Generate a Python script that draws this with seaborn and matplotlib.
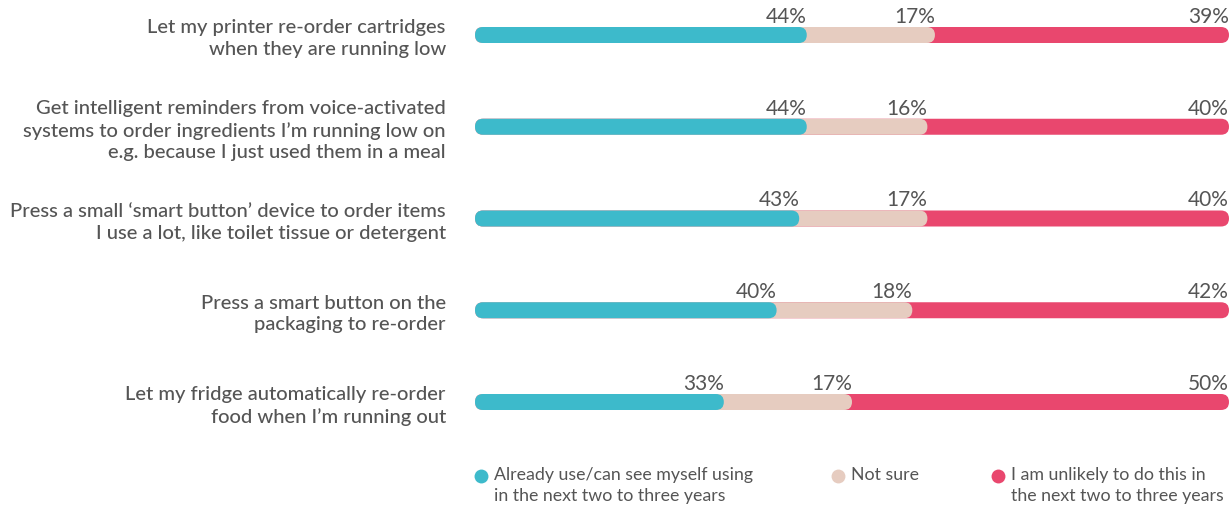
import matplotlib
matplotlib.use("Agg")
import matplotlib.pyplot as plt
import seaborn as sns
import pandas as pd
from matplotlib.patches import FancyBboxPatch
from matplotlib.lines import Line2D

categories = [
    "Let my printer re-order cartridges\nwhen they are running low",
    "Get intelligent reminders from voice-activated\nsystems to order ingredients I\u2019m running low on\ne.g. because I just used them in a meal",
    "Press a small \u2018smart button\u2019 device to order items\nI use a lot, like toilet tissue or detergent",
    "Press a smart button on the\npackaging to re-order",
    "Let my fridge automatically re-order\nfood when I\u2019m running out",
]
already = [44, 44, 43, 40, 33]
not_sure = [17, 16, 17, 18, 17]
unlikely = [39, 40, 40, 42, 50]
series_names = [
    "Already use/can see myself using\nin the next two to three years",
    "Not sure",
    "I am unlikely to do this in\nthe next two to three years",
]
colors = ["#3DBACB", "#E6CCC0", "#E9476E"]

sns.set_theme(style="white")
plt.rcParams["font.family"] = ["Lato", "DejaVu Sans"]
text_color = "#555555"

W, H = 1229, 508
fig = plt.figure(figsize=(W / 100, H / 100), dpi=100)
ax = fig.add_axes([475 / W, 1 - 440 / H, (1229 - 475) / W, 440 / H])

df = pd.DataFrame({"cat": categories, "a": already, "b": not_sure, "c": unlikely})
df["ab"] = df["a"] + df["b"]
df["abc"] = df["ab"] + df["c"]

bar_h = 16 / 91.75
for col, color in [("abc", colors[2]), ("ab", colors[1]), ("a", colors[0])]:
    sns.barplot(data=df, x=col, y="cat", color=color, width=bar_h, ax=ax,
                orient="h", saturation=1)

ax.set_xlim(0, 100)
ax.set_ylim((440 - 35) / 91.75, -35 / 91.75)

fig.canvas.draw()
px_x = ax.transData.transform((1, 0))[0] - ax.transData.transform((0, 0))[0]
px_y = abs(ax.transData.transform((0, 1))[1] - ax.transData.transform((0, 0))[1])
aspect = px_x / px_y
for p in list(ax.patches):
    x0, y0 = p.get_x(), p.get_y()
    w, h = p.get_width(), p.get_height()
    fc = p.get_facecolor()
    z = p.get_zorder()
    p.set_visible(False)
    r = (h * px_y / 2) / px_x
    fb = FancyBboxPatch((x0, y0), w, h,
                        boxstyle=f"round,pad=0,rounding_size={r}",
                        mutation_aspect=aspect, facecolor=fc, edgecolor="none",
                        zorder=z, clip_on=False)
    ax.add_patch(fb)

for i in range(len(categories)):
    ends = [already[i], already[i] + not_sure[i], already[i] + not_sure[i] + unlikely[i]]
    vals = [already[i], not_sure[i], unlikely[i]]
    for e, v in zip(ends, vals):
        ax.text(e, i - bar_h / 2 - 0.0, f"{v}%", ha="right", va="bottom",
                fontsize=15, color=text_color)

ax.set_yticks(range(len(categories)))
ax.set_yticklabels(categories, fontsize=14.5, color=text_color, linespacing=1.33,
                   fontweight="medium")
ax.tick_params(axis="y", length=0, pad=21)
ax.set_xticks([])
ax.set_xlabel("")
ax.set_ylabel("")
for s in ax.spines.values():
    s.set_visible(False)

# legend (manual layout)
marker_x = [481, 838, 998]
for mx, c, name in zip(marker_x, colors, series_names):
    fig.add_artist(Line2D([mx / W], [1 - 476 / H], marker="o", linestyle="none",
                          markersize=10, markerfacecolor=c, markeredgecolor="none",
                          transform=fig.transFigure))
    fig.text((mx + 13) / W, 1 - 467 / H, name, ha="left", va="top",
             fontsize=12.8, color=text_color, linespacing=1.4)

fig.savefig("out.png", dpi=100)
